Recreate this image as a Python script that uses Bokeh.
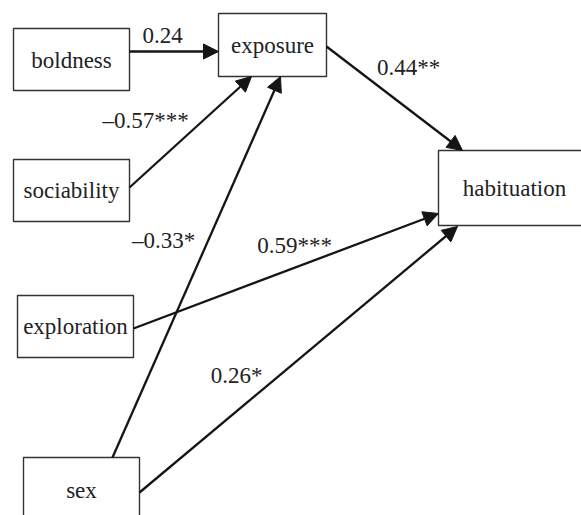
from bokeh.plotting import figure
from bokeh.models import Range1d, Arrow, NormalHead, ColumnDataSource
from bokeh.core.properties import value
from bokeh.embed import file_html
from bokeh.resources import INLINE

# ---- data ----
nodes = ["boldness", "exposure", "sociability", "exploration", "sex", "habituation"]
sources = ["boldness", "sociability", "sex", "exposure", "exploration", "sex"]
targets = ["exposure", "exposure", "exposure", "habituation", "habituation", "habituation"]
coefs = ["0.24", "–0.57***", "–0.33*", "0.44**", "0.59***", "0.26*"]

# ---- layout (pixel coordinates of the drawing) ----
boxes = {
    "boldness":    (13, 129, 28, 90),
    "exposure":    (218, 326, 13, 76),
    "sociability": (13, 129, 159, 221),
    "exploration": (17, 133, 295, 357),
    "sex":         (23, 139, 457, 523),
    "habituation": (438, 590, 150, 225),
}
text_pos = {
    "boldness": (71, 60),
    "exposure": (272, 45),
    "sociability": (71, 190),
    "exploration": (75, 326),
    "sex": (81, 490),
    "habituation": (514, 188),
}
edge_pts = [
    ((129, 51), (218, 51)),
    ((129, 187), (251, 76)),
    ((112, 457), (280, 76)),
    ((326, 46), (462, 150)),
    ((133, 328), (438, 213)),
    ((139, 492), (457, 226)),
]
label_pos = [(162, 35), (145, 120), (163, 240), (408, 67), (294, 245), (236, 375)]

p = figure(width=581, height=515, x_range=Range1d(0, 581), y_range=Range1d(515, 0),
           output_backend="svg", toolbar_location=None, min_border=0)
p.axis.visible = False
p.grid.visible = False
p.outline_line_color = None
p.background_fill_color = "white"

bl = [boxes[n][0] for n in nodes]
br = [boxes[n][1] for n in nodes]
bt = [boxes[n][2] for n in nodes]
bb = [boxes[n][3] for n in nodes]
p.quad(left=bl, right=br, top=bt, bottom=bb, fill_color="white",
       line_color="#333333", line_width=1.4)

p.text(x=[text_pos[n][0] for n in nodes], y=[text_pos[n][1] for n in nodes], text=nodes,
       text_font=value("serif"), text_font_size="23px",
       text_align="center", text_baseline="middle", text_color="#222222")

asrc = ColumnDataSource(dict(
    x0=[e[0][0] for e in edge_pts], y0=[e[0][1] for e in edge_pts],
    x1=[e[1][0] for e in edge_pts], y1=[e[1][1] for e in edge_pts],
    src=sources, tgt=targets,
))
p.add_layout(Arrow(source=asrc, x_start="x0", y_start="y0", x_end="x1", y_end="y1",
                   line_width=2.3, line_color="#151515",
                   end=NormalHead(size=15, fill_color="#151515", line_color="#151515", line_width=1)))

p.text(x=[l[0] for l in label_pos], y=[l[1] for l in label_pos], text=coefs,
       text_font=value("Times New Roman"), text_font_size="23px", text_align="center",
       text_baseline="middle", text_color="#222222")

open("out.html", "w").write(file_html(p, INLINE))
